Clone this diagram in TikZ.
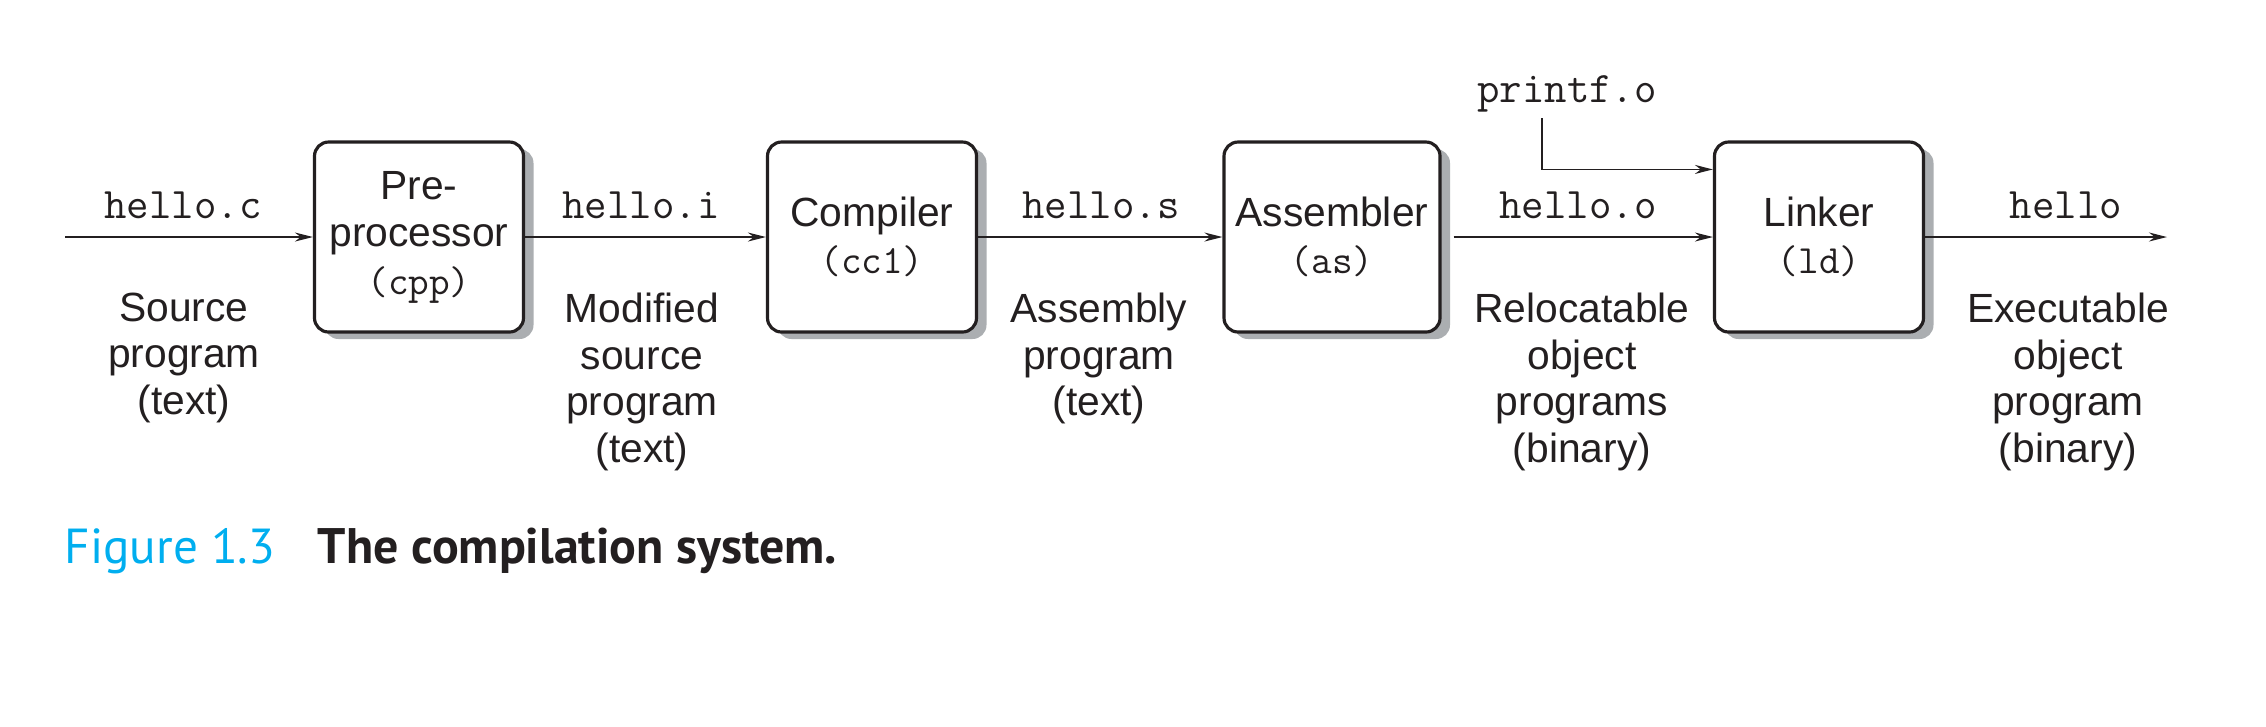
\documentclass[tikz,border=0pt]{standalone}
\usepackage{fontspec}
\setmainfont{Liberation Sans}
\setsansfont{Liberation Sans}
\newfontfamily\capfont{PT Sans}
\usepackage{xcolor}
\definecolor{InkBlack}{HTML}{231F20}
\definecolor{ShadeGray}{HTML}{ABAEB1}
\definecolor{FigCyan}{HTML}{00AEEF}
\usetikzlibrary{positioning,calc,arrows.meta,shadows}
\newcommand{\prog}[1]{{\fontsize{11.4}{13.5}\ttfamily #1}}

\begin{document}
\begin{tikzpicture}[x=1cm,y=1cm,
  stage/.style={draw=InkBlack,line width=0.9pt,rounded corners=4pt,fill=white,
    minimum width=2.09cm,minimum height=1.90cm,align=center,text=InkBlack,
    font=\fontsize{11.6}{13.5}\selectfont,
    drop shadow={shadow xshift=0.10cm,shadow yshift=-0.07cm,fill=ShadeGray,opacity=1}},
  file/.style={font=\fontsize{12.4}{14}\ttfamily,anchor=base,inner sep=0pt,text=InkBlack},
  note/.style={font=\fontsize{11.6}{13.3}\selectfont,align=center,anchor=north,
    inner sep=0pt,text=InkBlack},
  flow/.style={draw=InkBlack,line width=0.5pt,-{Stealth[length=1.8mm,width=0.9mm]}}]
\useasboundingbox (0,0) rectangle (22.66,-7.26);
\def\yb{-2.37}
% translation stages
\foreach \nm/\x/\txt in {
  pre/4.19/{Pre-\\processor\\\prog{(cpp)}},
  cc/8.72/{Compiler\\\prog{(cc1)}},
  as/13.32/{Assembler\\\prog{(as)}},
  ld/18.19/{Linker\\\prog{(ld)}}} {
  \node[stage] (\nm) at (\x,\yb) {\txt};
}
\coordinate (src) at (0.65,\yb);
\coordinate (exe) at (21.67,\yb);
% files on the arrows
\foreach \x/\f [count=\i] in {1.83/hello.c, 6.41/hello.i, 11.01/hello.s,
  15.78/hello.o, 20.66/hello} {
  \node[file] (f\i) at (\x,-2.18) {\f};
}
\node[file] (printf) at (15.67,-1.02) {printf.o};
% what each file is
\foreach \x/\t [count=\i] in {
  1.84/{Source\\program\\(text)},
  6.42/{Modified\\source\\program\\(text)},
  10.99/{Assembly\\program\\(text)},
  15.82/{Relocatable\\object\\programs\\(binary)},
  20.68/{Executable\\object\\program\\(binary)}} {
  \node[note] (n\i) at (\x,-2.92) {\t};
}
\draw[flow] (src) -- (pre);
\draw[flow] (pre) -- (cc);
\draw[flow] (cc) -- (as);
\draw[flow] ([xshift=0.12cm]as.east) -- (ld);
\draw[flow] (ld) -- (exe);
\draw[flow] ([xshift=-0.25cm,yshift=-0.06cm]printf.south) |- ([yshift=-0.29cm]ld.north west);
% caption
\node[anchor=base west,inner sep=0pt,text=FigCyan,
  font=\capfont\fontsize{14}{16}\selectfont] (figno) at (0.64,-5.63) {Figure 1.3};
\node[anchor=base west,inner sep=0pt,text=InkBlack,
  font=\capfont\bfseries\fontsize{14.2}{16}\selectfont] (figtitle) at (3.17,-5.63)
  {The compilation system.};
\end{tikzpicture}
\end{document}
